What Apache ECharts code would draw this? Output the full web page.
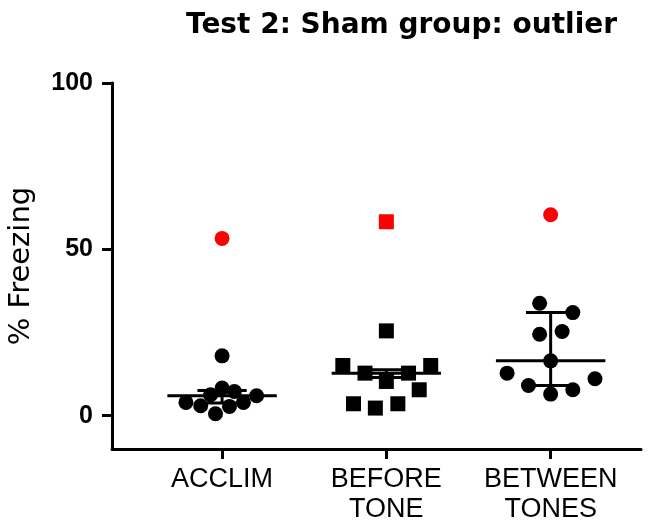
<!DOCTYPE html>
<html>
<head>
<meta charset="utf-8">
<style>
  html, body { margin: 0; padding: 0; background: #ffffff; }
  #chart { width: 656px; height: 523px; }
</style>
<script src="https://cdn.jsdelivr.net/npm/echarts@6/dist/echarts.min.js"></script>
</head>
<body>
<div id="chart"></div>
<script>
// Groups along the x axis (positions 1, 2, 3)
const categories = ['ACCLIM', 'BEFORE\nTONE', 'BETWEEN\nTONES'];
const groupPositions = [1, 2, 3];

// % freezing per animal, with horizontal scatter offsets (in group units)
const acclimValues   = [18.0, 8.3, 7.3, 6.3, 6.0, 4.0, 3.0, 4.0, 2.8, 0.6];
const acclimOffsets  = [0, 0, 0.075, -0.07, 0.21, -0.22, -0.13, 0.13, 0.045, -0.04];

const beforeToneValues  = [25.5, 15.1, 15.1, 12.8, 12.8, 10.3, 7.8, 3.6, 2.3, 3.6];
const beforeToneOffsets = [0, -0.265, 0.27, -0.13, 0.135, 0, 0.2, -0.2, -0.067, 0.07];

const betweenTonesValues  = [33.8, 31.0, 24.5, 25.3, 16.5, 12.8, 11.1, 9.1, 7.8, 6.5];
const betweenTonesOffsets = [-0.067, 0.135, -0.067, 0.07, 0, -0.265, 0.27, -0.135, 0.135, 0];

// The outlying animal in each group (drawn in red)
const outlierValues  = [53.3, 58.3, 60.4];
const outlierSymbols = ['circle', 'rect', 'circle'];

// Median with interquartile range per group
const medians = [6.0, 12.8, 16.5];
const lowerQuartiles = [3.8, 11.5, 9.1];
const upperQuartiles = [7.6, 13.8, 31.0];

const yTicks = [0, 50, 100];

function points(pos, values, offsets) {
  return values.map((v, i) => [pos + offsets[i], v]);
}

const chart = echarts.init(document.getElementById('chart'));

const summaryData = groupPositions.map((p, i) => [p, medians[i], lowerQuartiles[i], upperQuartiles[i]]);

const dotStyle = { color: '#000000', opacity: 1 };

const option = {
  animation: false,
  backgroundColor: '#ffffff',
  title: {
    text: 'Test 2: Sham group: outlier',
    left: 181,
    top: 7,
    textStyle: {
      fontFamily: 'DejaVu Sans',
      fontWeight: 'bold',
      fontSize: 28,
      color: '#000000'
    }
  },
  grid: { left: 112, right: 15, top: 83, bottom: 74, outerBoundsMode: 'none', containLabel: false },
  xAxis: {
    type: 'value',
    min: 0.33,
    max: 3.55,
    splitLine: { show: false },
    axisLine: { show: true, onZero: false, lineStyle: { color: '#000000', width: 3 } },
    axisTick: { show: true, customValues: groupPositions, length: 10, lineStyle: { color: '#000000', width: 3 } },
    axisLabel: {
      customValues: groupPositions,
      formatter: v => categories[Math.round(v) - 1] || '',
      margin: 16,
      fontFamily: 'Liberation Sans',
      fontSize: 27,
      lineHeight: 30,
      color: '#000000'
    }
  },
  yAxis: {
    type: 'value',
    min: -10,
    max: 100,
    name: '% Freezing',
    nameLocation: 'middle',
    nameRotate: 90,
    nameGap: 76,
    nameTextStyle: { fontFamily: 'DejaVu Sans', fontSize: 29, color: '#000000' },
    splitLine: { show: false },
    axisLine: { show: true, lineStyle: { color: '#000000', width: 3 } },
    axisTick: { show: true, customValues: yTicks, length: 10, lineStyle: { color: '#000000', width: 3 } },
    axisLabel: {
      customValues: yTicks,
      margin: 19,
      fontFamily: 'Liberation Sans',
      fontWeight: 'bold',
      fontSize: 25,
      color: '#000000'
    }
  },
  series: [
    {
      name: 'Median (IQR)',
      type: 'custom',
      z: 1,
      data: summaryData,
      renderItem: function (params, api) {
        const x = api.value(0);
        const med = api.value(1), lo = api.value(2), hi = api.value(3);
        const halfMedian = 0.333, halfCap = 0.15;
        const style = { stroke: '#000000', lineWidth: 3, fill: null };
        const seg = (x1, y1, x2, y2) => {
          const a = api.coord([x1, y1]);
          const b = api.coord([x2, y2]);
          return { type: 'line', shape: { x1: a[0], y1: a[1], x2: b[0], y2: b[1] }, style: style };
        };
        return {
          type: 'group',
          children: [
            seg(x - halfMedian, med, x + halfMedian, med),
            seg(x, lo, x, hi),
            seg(x - halfCap, hi, x + halfCap, hi),
            seg(x - halfCap, lo, x + halfCap, lo)
          ]
        };
      }
    },
    {
      name: 'ACCLIM',
      type: 'scatter',
      z: 2,
      symbol: 'circle',
      symbolSize: 15,
      itemStyle: dotStyle,
      data: points(1, acclimValues, acclimOffsets)
    },
    {
      name: 'BEFORE TONE',
      type: 'scatter',
      z: 2,
      symbol: 'rect',
      symbolSize: 15,
      itemStyle: dotStyle,
      data: points(2, beforeToneValues, beforeToneOffsets)
    },
    {
      name: 'BETWEEN TONES',
      type: 'scatter',
      z: 2,
      symbol: 'circle',
      symbolSize: 15,
      itemStyle: dotStyle,
      data: points(3, betweenTonesValues, betweenTonesOffsets)
    },
    {
      name: 'Outlier',
      type: 'scatter',
      z: 2,
      symbolSize: 15,
      itemStyle: { color: '#ff0000', opacity: 1 },
      data: groupPositions.map((p, i) => ({ value: [p, outlierValues[i]], symbol: outlierSymbols[i] }))
    }
  ]
};

chart.setOption(option);
</script>
</body>
</html>
